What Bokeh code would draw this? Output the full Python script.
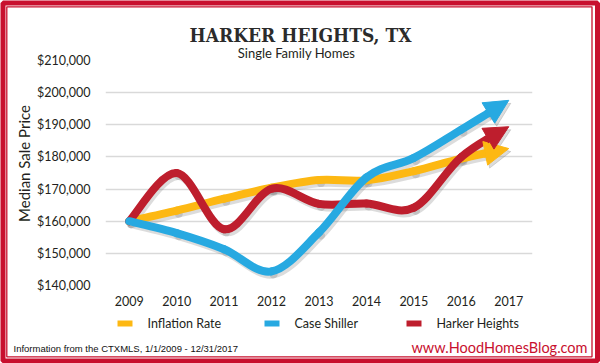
import math
from bokeh.plotting import figure
from bokeh.models import (Range1d, FixedTicker, NumeralTickFormatter, Arrow,
                          NormalHead, BasicTickFormatter)
from bokeh.core.properties import value
from bokeh.embed import file_html
from bokeh.resources import INLINE

# ---------------- data ----------------
years = [2009, 2010, 2011, 2012, 2013, 2014, 2015, 2016, 2017]
inflation_rate = [160000, 163300, 167000, 170400, 172800, 172700, 175600, 179500, 182600]
case_shiller = [160000, 156300, 151300, 144400, 156500, 173600, 179700, 188500, 197600]
harker_heights = [160000, 175000, 157500, 170100, 165400, 165500, 164200, 180000, 189400]
y_ticks = [140000, 150000, 160000, 170000, 180000, 190000, 200000, 210000]

series_names = ["Inflation Rate", "Case Shiller", "Harker Heights"]
series_colors = ["#FDB813", "#27A9E1", "#BE1E2D"]
series_values = [inflation_rate, case_shiller, harker_heights]

title_text = "HARKER HEIGHTS, TX"
subtitle_text = "Single Family Homes"
y_label = "Median Sale Price"
source_text = "Information from the CTXMLS, 1/1/2009 - 12/31/2017"
site_text = "www.HoodHomesBlog.com"

BORDER_RED = "#C8102E"
TEXT = "#231F20"

# ---------------- layout ----------------
W, H = 600, 363
FL, FT, FW, FH = 105, 60, 427, 225  # plot frame in page px
X0, X1 = 2008.5, 2017.5
Y0, Y1 = 140000, 210000


def px2x(px):
    return X0 + (px - FL) * (X1 - X0) / FW


def py2y(py):
    return Y0 + (FT + FH - py) * (Y1 - Y0) / FH


SX = FW / (X1 - X0)
SY = FH / (Y1 - Y0)

p = figure(width=W, height=H, output_backend="svg", toolbar_location=None,
           x_range=Range1d(X0, X1), y_range=Range1d(Y0, Y1),
           min_border_left=FL, min_border_right=W - FL - FW,
           min_border_top=FT, min_border_bottom=H - FT - FH)
p.background_fill_color = "white"
p.border_fill_color = "white"
p.outline_line_color = None

p.xgrid.grid_line_color = None
p.ygrid.grid_line_color = "#D9D9D9"
p.ygrid.grid_line_width = 1.5
p.ygrid.ticker = FixedTicker(ticks=y_ticks)

p.xaxis.ticker = FixedTicker(ticks=years)
p.xaxis.formatter = BasicTickFormatter(use_scientific=False)
p.yaxis.ticker = FixedTicker(ticks=y_ticks)
p.yaxis.formatter = NumeralTickFormatter(format="$0,0")
for ax in (p.xaxis[0], p.yaxis[0]):
    ax.axis_line_color = None
    ax.major_tick_line_color = None
    ax.minor_tick_line_color = None
    ax.major_tick_out = 0
    ax.major_tick_in = 0
    ax.minor_tick_out = 0
    ax.major_label_text_font = "Lato"
    ax.major_label_text_font_size = "12.5px"
    ax.major_label_text_color = TEXT
p.xaxis.major_label_standoff = 10
p.yaxis.major_label_standoff = 15


def txt(px, py, s, font, size, color=TEXT, align="center", style="normal", angle=0.0):
    p.text(x=[px2x(px)], y=[py2y(py)], text=[s], text_font=value(font),
           text_font_size=value(size), text_color=color, text_align=align,
           text_baseline="middle", text_font_style=style, angle=angle, level="overlay")


txt(23, 163, y_label, "Lato", "15px", angle=math.pi / 2)


# ---------------- smooth curves ----------------
def bez_split(P0, P1, P2, P3, t):
    lerp = lambda a, b: (a[0] + (b[0] - a[0]) * t, a[1] + (b[1] - a[1]) * t)
    q0, q1, q2 = lerp(P0, P1), lerp(P1, P2), lerp(P2, P3)
    r0, r1 = lerp(q0, q1), lerp(q1, q2)
    s = lerp(r0, r1)
    return (P0, q0, r0, s)


def curve(xs, ys, dx=0.0, dy=0.0, cut_px=26):
    pts = [(x + dx, y + dy) for x, y in zip(xs, ys)]
    n = len(pts)
    segs = []
    for i in range(n - 1):
        p0 = pts[i - 1] if i > 0 else pts[i]
        p1, p2 = pts[i], pts[i + 1]
        p3 = pts[i + 2] if i + 2 < n else pts[i + 1]
        c1 = (p1[0] + (p2[0] - p0[0]) / 6, p1[1] + (p2[1] - p0[1]) / 6)
        c2 = (p2[0] - (p3[0] - p1[0]) / 6, p2[1] - (p3[1] - p1[1]) / 6)
        segs.append((p1, c1, c2, p2))
    P0, P1, P2, P3 = segs[-1]
    lo, hi = 0.0, 1.0
    for _ in range(40):
        mid = (lo + hi) / 2
        s = bez_split(P0, P1, P2, P3, mid)[3]
        d = (((P3[0] - s[0]) * SX) ** 2 + ((P3[1] - s[1]) * SY) ** 2) ** 0.5
        if d > cut_px:
            lo = mid
        else:
            hi = mid
    segs[-1] = bez_split(P0, P1, P2, P3, lo)
    return segs, segs[-1][3], P3


def draw_series(vals, color, shadow=False):
    dx = 2.0 / SX if shadow else 0.0
    dy = -3.0 / SY if shadow else 0.0
    segs, start, tip = curve(years, vals, dx, dy)
    col = "#808080" if shadow else color
    alpha = 0.28 if shadow else 1.0
    p.bezier(x0=[s[0][0] for s in segs], y0=[s[0][1] for s in segs],
             x1=[s[3][0] for s in segs], y1=[s[3][1] for s in segs],
             cx0=[s[1][0] for s in segs], cy0=[s[1][1] for s in segs],
             cx1=[s[2][0] for s in segs], cy1=[s[2][1] for s in segs],
             line_color=col, line_width=8, line_cap="round", line_alpha=alpha)
    p.add_layout(Arrow(end=NormalHead(size=24, fill_color=col, line_color=col,
                                      fill_alpha=alpha, line_alpha=alpha, line_width=1),
                       x_start=start[0], y_start=start[1], x_end=tip[0], y_end=tip[1],
                       line_color=col, line_width=8, line_alpha=alpha))


for vals, c in zip(series_values, series_colors):
    draw_series(vals, c, shadow=True)
for idx in [0, 2, 1]:
    draw_series(series_values[idx], series_colors[idx])

# ---------------- legend ----------------
leg_x = [117, 264, 406]
leg_y = 323
for name, c, lx in zip(series_names, series_colors, leg_x):
    p.segment(x0=[px2x(lx)], y0=[py2y(leg_y)], x1=[px2x(lx + 15)], y1=[py2y(leg_y)],
              line_color=c, line_width=6, level="overlay")
    p.scatter(x=[px2x(lx + 17.5)], y=[py2y(leg_y)], marker="triangle", size=16,
              angle=-math.pi / 2, fill_color=c, line_color=c, level="overlay")
    txt(lx + 30, leg_y, name, "Lato", "12.5px", align="left")

# ---------------- titles / footers ----------------
txt(300, 34, title_text, "DejaVu Serif Condensed", "19px", color="#2B2B2B", style="bold")
txt(296, 52, subtitle_text, "Lato", "13px")
txt(13, 348, source_text, "Liberation Sans", "9.5px", color="#111111", align="left")
txt(587, 347, site_text, "Lato", "14.5px", color="#C8102E", align="right")

# ---------------- border ----------------
p.quad(left=[px2x(2.5)], right=[px2x(597)], top=[py2y(2.5)], bottom=[py2y(360.5)],
       fill_alpha=0, line_color=BORDER_RED, line_width=5, level="overlay")
p.quad(left=[px2x(6.3)], right=[px2x(591.5)], top=[py2y(6.3)], bottom=[py2y(356.3)],
       fill_alpha=0, line_color=BORDER_RED, line_width=1.3, level="overlay")

open("out.html", "w").write(file_html(p, INLINE))
